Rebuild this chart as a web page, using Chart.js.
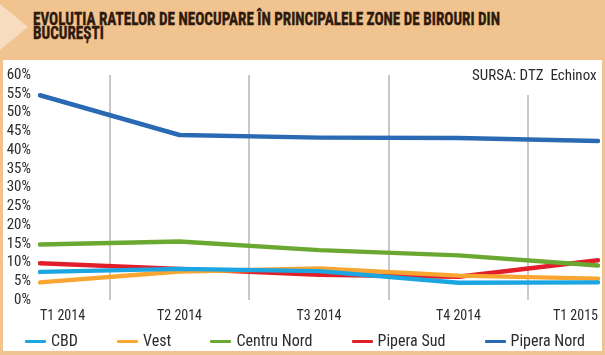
<!DOCTYPE html>
<html><head><meta charset="utf-8">
<script src="https://cdn.jsdelivr.net/npm/chart.js@4/dist/chart.umd.min.js"></script>
<style>
html,body{margin:0;padding:0;}
body{width:605px;height:355px;background:#f1c38f;position:relative;overflow:hidden;font-family:"Roboto Condensed","DejaVu Sans Condensed",sans-serif;color:#2b2b2b;}
#arrow{position:absolute;left:0;top:4px;width:0;height:0;border-top:23px solid transparent;border-bottom:23px solid transparent;border-left:28px solid #f8dcc0;}
#title{position:absolute;left:33px;top:12px;font-weight:bold;font-size:19px;line-height:14px;color:#2e1a0c;-webkit-text-stroke:0.4px #2e1a0c;transform-origin:0 0;white-space:nowrap;}
#title span{display:block;width:max-content;}
#box{position:absolute;left:3px;top:60px;width:599px;height:291px;background:#fff;}
#src{position:absolute;left:472px;top:67px;height:28px;font-size:15px;line-height:16px;background:#fff;white-space:pre;}
#legend{position:absolute;left:25px;top:332px;width:560px;height:18px;display:flex;justify-content:space-between;align-items:center;font-size:16px;line-height:18px;}
#legend .it{display:flex;align-items:center;white-space:nowrap;}
#legend .mk{display:inline-block;width:21px;height:3px;margin-right:5px;border-radius:1px;}
</style></head>
<body>
<div id="arrow"></div>
<div id="title"></div>
<div id="box"><canvas id="c" width="599" height="291"></canvas></div>
<div id="src"></div>
<div id="legend"></div>
<script>
const titleLines = ['EVOLUȚIA RATELOR DE NEOCUPARE ÎN PRINCIPALELE ZONE DE BIROURI DIN', 'BUCUREȘTI'];
const sourceText = 'SURSA: DTZ  Echinox';
const categories = ['T1 2014', 'T2 2014', 'T3 2014', 'T4 2014', 'T1 2015'];
const seriesNames = ['CBD', 'Vest', 'Centru Nord', 'Pipera Sud', 'Pipera Nord'];
const cbd = [7.5, 8.3, 7.7, 4.6, 4.7];
const vest = [4.7, 7.6, 8.4, 6.5, 5.7];
const centruNord = [14.8, 15.6, 13.3, 11.9, 9.2];
const piperaSud = [9.8, 8.3, 6.7, 6.2, 10.6];
const piperaNord = [54.6, 44.0, 43.3, 43.2, 42.4];
const yMin = 0, yMax = 60, yStep = 5;
const colors = ['#1ba6e1', '#f8a532', '#6aa832', '#e31e2b', '#2a6ab4'];

const titleEl = document.getElementById('title');
titleLines.forEach(t => { const s = document.createElement('span'); s.textContent = t; titleEl.appendChild(s); });
const tw = Math.max(...[...titleEl.children].map(s => s.getBoundingClientRect().width));
titleEl.style.transform = 'scaleX(' + (467 / tw) + ')';
document.getElementById('src').textContent = sourceText;

const FONT = '"Roboto Condensed","DejaVu Sans Condensed",sans-serif';
const TXT = '#2b2b2b';
const seriesValues = [cbd, vest, centruNord, piperaSud, piperaNord];

const htmlLegend = {
  id: 'htmlLegend',
  afterUpdate(chart) {
    const box = document.getElementById('legend');
    box.innerHTML = '';
    chart.options.plugins.legend.labels.generateLabels(chart).forEach(item => {
      const it = document.createElement('div'); it.className = 'it';
      const mk = document.createElement('span'); mk.className = 'mk'; mk.style.background = item.strokeStyle;
      const tx = document.createElement('span'); tx.textContent = item.text;
      it.appendChild(mk); it.appendChild(tx); box.appendChild(it);
    });
  }
};

new Chart(document.getElementById('c'), {
  type: 'line',
  data: {
    labels: categories,
    datasets: seriesNames.map((n, i) => ({
      label: n, data: seriesValues[i], borderColor: colors[i], backgroundColor: colors[i],
      borderWidth: 4.5, pointRadius: 0, tension: 0, fill: false,
      borderCapStyle: 'round', borderJoinStyle: 'round'
    }))
  },
  plugins: [htmlLegend],
  options: {
    responsive: false, animation: false, devicePixelRatio: 1,
    layout: { padding: { left: 0, right: 4, top: 15, bottom: 21 } },
    plugins: { tooltip: { enabled: false }, legend: { display: false } },
    scales: {
      x: {
        grid: { offset: true, color: '#c8c8c8', lineWidth: 2, drawTicks: false },
        border: { display: false },
        ticks: { align: 'inner', padding: 8, color: TXT, font: { family: FONT, size: 14 }, maxRotation: 0, autoSkip: false },
        afterFit(s) { s.height = 30; s.paddingLeft = 0; s.paddingRight = 0; }
      },
      y: {
        min: yMin, max: yMax,
        grid: { display: false, drawTicks: false },
        border: { display: false },
        ticks: { stepSize: yStep, autoSkip: false, padding: 9, color: TXT, font: { family: FONT, size: 15 }, callback: v => v + '%' },
        afterFit(s) { s.width = 37; s.paddingTop = 0; s.paddingBottom = 0; }
      }
    }
  }
});
</script>
</body></html>
